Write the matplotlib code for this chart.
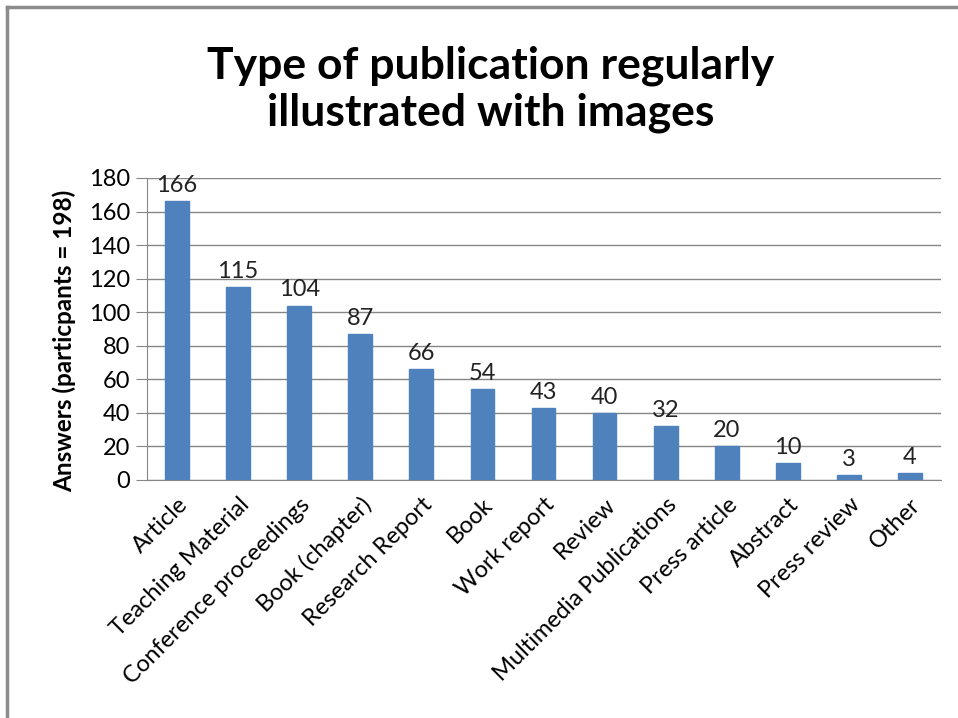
import matplotlib.pyplot as plt
from matplotlib.lines import Line2D

categories = ['Article', 'Teaching Material', 'Conference proceedings', 'Book (chapter)',
              'Research Report', 'Book', 'Work report', 'Review', 'Multimedia Publications',
              'Press article', 'Abstract', 'Press review', 'Other']
answers = [166, 115, 104, 87, 66, 54, 43, 40, 32, 20, 10, 3, 4]
yticks = list(range(0, 181, 20))

plt.rcParams['font.family'] = ['Lato', 'DejaVu Sans']

fig = plt.figure(figsize=(9.58, 7.18), dpi=100)
ax = fig.add_axes([146.5 / 958, 1 - 480 / 718, 794 / 958, 302 / 718])

x = list(range(len(categories)))
ax.bar(x, answers, width=0.39, color='#4F81BD', edgecolor='#4F81BD', zorder=3)
for xi, v in zip(x, answers):
    ax.text(xi, v + 3, str(v), ha='center', va='bottom', fontsize=17, color='#222222')

ax.set_xlim(-0.5, len(categories) - 0.5)
ax.set_ylim(0, 180)
ax.set_yticks(yticks)
ax.tick_params(axis='y', labelsize=17, length=8, color='#868686', pad=4)
ax.tick_params(axis='x', length=0, pad=10)
ax.set_xticks(x)
ax.set_xticklabels(categories, rotation=45, ha='right', rotation_mode='anchor', fontsize=17)
ax.yaxis.grid(True, color='#868686', linewidth=1, zorder=0)
for s in ['top', 'right']:
    ax.spines[s].set_visible(False)
for s in ['left', 'bottom']:
    ax.spines[s].set_color('#868686')
ax.set_ylabel('Answers (particpants = 198)', fontsize=17.5, fontweight='bold')
ax.yaxis.set_label_coords(-0.089, 0.46)

fig.text(0.512, 1 - 89 / 718, 'Type of publication regularly\nillustrated with images',
         ha='center', va='center', fontsize=32, fontweight='bold', linespacing=1.2)

# outer frame (top and left edges visible)
fig.add_artist(Line2D([7 / 958, 1], [1 - 7 / 718] * 2, color='#8c8c8c', lw=2.5))
fig.add_artist(Line2D([7 / 958] * 2, [0, 1 - 7 / 718], color='#8c8c8c', lw=2.5))

fig.savefig('out.png', dpi=100)
